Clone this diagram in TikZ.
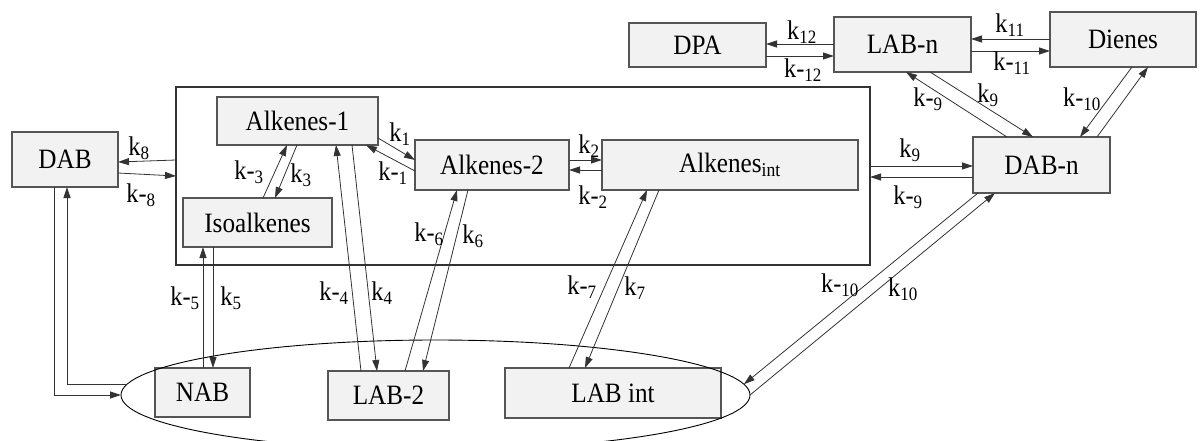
\documentclass[tikz,border=0pt]{standalone}
\usepackage{fontspec}
\setmainfont{Liberation Serif}
\newfontfamily\condserif{Liberation Serif}[FakeStretch=0.9]
\usetikzlibrary{arrows.meta,shapes.geometric}
\definecolor{boxfill}{HTML}{F2F2F2}
\definecolor{boxline}{HTML}{555555}
\definecolor{linecol}{HTML}{333333}
\begin{document}
\begin{tikzpicture}[x=1pt,y=-1pt,
  box/.style={draw=boxline, fill=boxfill, line width=1.2pt, inner sep=0pt, outer sep=0pt,
              font=\condserif\fontsize{28}{32}\selectfont},
  rx/.style={draw=linecol, line width=0.8pt, -{Triangle[length=11pt,width=7pt]}},
  klab/.style={inner sep=0pt, font=\condserif\fontsize{27}{30}\selectfont},
]
\useasboundingbox (0,0) rectangle (1204,441);
\clip (0,0) rectangle (1204,441);

% enclosing frame for the alkene pool
\node[draw=linecol, line width=1.1pt, minimum width=694pt, minimum height=178pt,
      inner sep=0pt, outer sep=0pt] (pool) at (523,176) {};

% species boxes
\node[box, minimum width=137pt, minimum height=44pt] (DPA) at (697.5,45) {DPA};
\node[box, minimum width=137pt, minimum height=55pt] (LABn) at (902.5,44.5) {LAB-n};
\node[box, minimum width=146pt, minimum height=55pt] (Dienes) at (1123,39.5) {Dienes};
\node[box, minimum width=137pt, minimum height=56pt] (DABn) at (1041.5,165) {DAB-n};
\node[box, minimum width=106pt, minimum height=55pt] (DAB) at (65,159.5) {DAB};
\node[box, minimum width=161pt, minimum height=48pt] (Alk1) at (297.5,121) {Alkenes-1};
\node[box, minimum width=149pt, minimum height=49pt] (Iso) at (257.5,222.5) {Isoalkenes};
\node[box, minimum width=154pt, minimum height=50pt] (Alk2) at (492,165) {Alkenes-2};
\node[box, minimum width=256pt, minimum height=50pt] (AlkInt) at (730,165) {Alkenes\textsubscript{int}};
\node[box, minimum width=95pt, minimum height=49pt] (NAB) at (202.5,392.5) {NAB};
\node[box, minimum width=121pt, minimum height=49pt] (LAB2) at (388.5,395.5) {LAB-2};
\node[box, minimum width=216pt, minimum height=50pt] (LABint) at (613,393) {LAB int};

% ellipse grouping the alkylbenzenes
\node[draw=black, line width=0.9pt, ellipse, minimum width=629pt, minimum height=110pt,
      inner sep=0pt, outer sep=0pt] (labs) at (435.5,395) {};

% top row
\draw[rx] (LABn.west |- 0,44) -- (DPA.east |- 0,44);
\draw[rx] (DPA.east |- 0,56) -- (LABn.west |- 0,56);
\draw[rx] (Dienes.west |- 0,39) -- (LABn.east |- 0,39);
\draw[rx] (LABn.east |- 0,51) -- (Dienes.west |- 0,51);
\node[klab] (l12) at (802,32) {k\textsubscript{12}};
\node[klab] (lm12) at (803,70) {k-\textsubscript{12}};
\node[klab] (l11) at (1010,25) {k\textsubscript{11}};
\node[klab] (lm11) at (1012,63) {k-\textsubscript{11}};

% LAB-n / Dienes to DAB-n
\draw[rx] (LABn.south -| 930,0) -- (DABn.north -| 1033,0);
\draw[rx] (DABn.north -| 1007,0) -- (LABn.south -| 906,0);
\draw[rx] (Dienes.south -| 1132,0) -- (DABn.north -| 1080,0);
\draw[rx] (DABn.north -| 1097,0) -- (Dienes.south -| 1148,0);
\node[klab] (lm9a) at (928,99) {k-\textsubscript{9}};
\node[klab] (l9a) at (988,95) {k\textsubscript{9}};
\node[klab] (lm10a) at (1082,99) {k-\textsubscript{10}};

% pool to DAB-n
\draw[rx] (pool.east |- 0,166) -- (DABn.west |- 0,166);
\draw[rx] (DABn.west |- 0,177) -- (pool.east |- 0,177);
\node[klab] (l9b) at (910,150) {k\textsubscript{9}};
\node[klab] (lm9b) at (908,197) {k-\textsubscript{9}};

% pool to DAB
\draw[rx] (pool.west |- 0,160) -- (DAB.east |- 0,162);
\draw[rx] (DAB.east |- 0,173) -- (pool.west |- 0,176);
\node[klab] (l8) at (139,148) {k\textsubscript{8}};
\node[klab] (lm8) at (141,195) {k-\textsubscript{8}};

% isomerisation inside the pool
\draw[rx] (Alk1.east |- 0,138) -- (Alk2.west |- 0,160);
\draw[rx] (Alk2.west |- 0,171) -- (Alk1.south -| 366,0);
\node[klab] (l1) at (400,134) {k\textsubscript{1}};
\node[klab] (lm1) at (393,173) {k-\textsubscript{1}};
\draw[rx] (Alk2.east |- 0,160) -- (AlkInt.west |- 0,160);
\draw[rx] (AlkInt.west |- 0,170) -- (Alk2.east |- 0,170);
\node[klab] (l2) at (589,146) {k\textsubscript{2}};
\node[klab] (lm2) at (593,197) {k-\textsubscript{2}};
\draw[rx] (Iso.north -| 263,0) -- (Alk1.south -| 287,0);
\draw[rx] (Alk1.south -| 297,0) -- (Iso.north -| 275,0);
\node[klab] (lm3) at (249,172) {k-\textsubscript{3}};
\node[klab] (l3) at (301,175) {k\textsubscript{3}};

% alkylation steps down to the benzene products
\draw[rx] (NAB.north -| 203,0) -- (Iso.south -| 203,0);
\draw[rx] (Iso.south -| 213,0) -- (NAB.north -| 213,0);
\node[klab] (lm5) at (185,298) {k-\textsubscript{5}};
\node[klab] (l5) at (231,298) {k\textsubscript{5}};
\draw[rx] (LAB2.north -| 361,0) -- (Alk1.south -| 336,0);
\draw[rx] (Alk1.south -| 352,0) -- (LAB2.north -| 377,0);
\node[klab] (lm4) at (334,293) {k-\textsubscript{4}};
\node[klab] (l4) at (382,293) {k\textsubscript{4}};
\draw[rx] (LAB2.north -| 405,0) -- (Alk2.south -| 457,0);
\draw[rx] (Alk2.south -| 468,0) -- (LAB2.north -| 423,0);
\node[klab] (lm6) at (429,234) {k-\textsubscript{6}};
\node[klab] (l6) at (473,236) {k\textsubscript{6}};
\draw[rx] (LABint.north -| 569,0) -- (AlkInt.south -| 647,0);
\draw[rx] (AlkInt.south -| 659,0) -- (LABint.north -| 585,0);
\node[klab] (lm7) at (582,287) {k-\textsubscript{7}};
\node[klab] (l7) at (635,288) {k\textsubscript{7}};

% DAB-n to the ellipse
\draw[rx] (DABn.south -| 978,0) -- (labs.2.4);
\draw[rx] (labs.0.4) -- (DABn.south -| 995,0);
\node[klab] (lm10b) at (840,285) {k-\textsubscript{10}};
\node[klab] (l10b) at (903,289) {k\textsubscript{10}};

% DAB to the ellipse
\draw[rx] (labs.178) -| (DAB.south -| 67,0);
\draw[rx] (DAB.south -| 54,0) |- (labs.west);
\end{tikzpicture}
\end{document}
